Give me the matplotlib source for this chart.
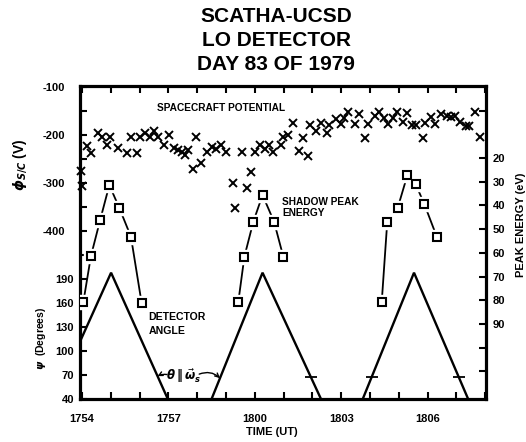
import numpy as np
import matplotlib
matplotlib.use('Agg')
import matplotlib.pyplot as plt

# ---------------- data (time in minutes after 17:54 UT) ----------------
pot_t = [-0.05, 0.00, 0.19, 0.33, 0.56, 0.70, 0.86, 0.99, 1.24, 1.55,
         1.70, 1.90, 2.00, 2.20, 2.36, 2.50, 2.65, 2.85, 3.03, 3.19,
         3.34, 3.46, 3.58, 3.69, 3.86, 3.96, 4.12, 4.33, 4.50, 4.66,
         4.84, 5.01, 5.25, 5.31, 5.57, 5.72, 5.87, 6.01, 6.17, 6.34,
         6.48, 6.64, 6.90, 6.99, 7.16, 7.34, 7.54, 7.66, 7.86, 7.93,
         8.14, 8.30, 8.50, 8.58, 8.82, 8.98, 9.09, 9.25, 9.47, 9.61,
         9.83, 9.94, 10.16, 10.30, 10.48, 10.64, 10.81, 10.94, 11.14, 11.27,
         11.46, 11.61, 11.84, 11.91, 12.11, 12.27, 12.47, 12.66, 12.81, 12.97,
         13.14, 13.32, 13.45, 13.65, 13.83]
pot_v = [-275, -307, -224, -238, -195, -204, -222, -204, -228, -238,
         -204, -238, -204, -195, -204, -191, -204, -221, -200, -228,
         -232, -235, -242, -232, -272, -205, -258, -235, -225, -230,
         -222, -236, -300, -353, -236, -310, -278, -235, -220, -229,
         -222, -236, -222, -205, -200, -176, -234, -206, -243, -180,
         -192, -175, -195, -179, -166, -177, -164, -152, -178, -157,
         -207, -178, -161, -152, -164, -178, -165, -152, -172, -154,
         -180, -180, -207, -176, -163, -177, -157, -160, -162, -160,
         -172, -181, -181, -152, -204]

# shadow peak energy (eV), three shadow passes
e1_t = [0.05, 0.31, 0.63, 0.95, 1.30, 1.70, 2.07]
e1_v = [80.6, 61.4, 46.2, 31.4, 41.2, 53.2, 81.1]
e2_t = [5.43, 5.64, 5.95, 6.27, 6.67, 6.99]
e2_v = [80.6, 61.6, 46.9, 35.6, 46.9, 61.6]
e3_t = [10.41, 10.60, 10.96, 11.30, 11.59, 11.89, 12.32]
e3_v = [80.6, 47.1, 41.2, 27.2, 31.1, 39.5, 53.2]

# detector angle psi (degrees)
a1_t = [-0.07, 1.01, 2.98]
a1_v = [111.4, 197.3, 40.0]
a2_t = [4.50, 6.27, 8.30]
a2_v = [40.0, 197.3, 40.0]
a3_t = [9.75, 11.53, 13.41]
a3_v = [40.0, 197.3, 40.0]
theta_par = 67.0   # psi where theta || omega_s

time_ticks = [0, 3, 6, 9, 12]
time_labels = ['1754', '1757', '1800', '1803', '1806']
pot_ticks = [-100, -200, -300, -400]
pot_minor = [-150, -250, -350, -450]
psi_ticks = [40, 70, 100, 130, 160, 190]
en_ticks = [20, 30, 40, 50, 60, 70, 80, 90]
en_minor = [0, 100, 110]

# ---------------- figure ----------------
plt.rcParams['font.family'] = ['Liberation Sans', 'DejaVu Sans']
plt.rcParams['font.weight'] = 'bold'
plt.rcParams['mathtext.fontset'] = 'dejavusans'
plt.rcParams['axes.unicode_minus'] = False

W, H = 526, 442
fig = plt.figure(figsize=(W / 100, H / 100), dpi=100)

def fx(x):
    return x / W

def fy(y):
    return 1 - y / H

rect = [80 / W, 1 - 399 / H, (486 - 80) / W, (399 - 86) / H]
TL, TW = 5.3, 1.5

ax = fig.add_axes(rect)
ax.set_xlim(-0.069, 14.03)
ax.set_ylim(-751, -97.9)
for s in ax.spines.values():
    s.set_linewidth(2.3)
ax.set_xticks(time_ticks)
ax.set_xticklabels(time_labels)
ax.set_xticks(np.arange(0, 15), minor=True)
ax.set_yticks(pot_ticks)
ax.set_yticklabels([str(v) for v in pot_ticks])
ax.set_yticks(pot_minor, minor=True)
ax.tick_params(axis='x', which='both', direction='in', top=True, bottom=True,
               length=TL, width=TW, pad=10.5, labelsize=8)
ax.tick_params(axis='y', which='both', direction='in', left=True, right=False,
               length=TL, width=TW, pad=10.5, labelsize=8)

axp = fig.add_axes(rect, sharex=ax)
axp.patch.set_visible(False)
for s in axp.spines.values():
    s.set_visible(False)
axp.set_ylim(40, 429.8)
axp.set_yticks(psi_ticks)
axp.set_yticklabels([str(v) for v in psi_ticks])
axp.tick_params(axis='x', which='both', bottom=False, top=False, labelbottom=False)
axp.tick_params(axis='y', which='both', direction='in', left=True, right=False,
                length=TL, width=TW, pad=4.3, labelsize=8)

axe = fig.add_axes(rect, sharex=ax)
axe.patch.set_visible(False)
for s in axe.spines.values():
    s.set_visible(False)
axe.set_ylim(121.7, -10.4)
axe.yaxis.tick_right()
axe.set_yticks(en_ticks)
axe.set_yticklabels([str(v) for v in en_ticks])
axe.set_yticks(en_minor, minor=True)
axe.tick_params(axis='x', which='both', bottom=False, top=False, labelbottom=False)
axe.tick_params(axis='y', which='both', direction='in', left=False, right=True,
                length=TL, width=TW, pad=5, labelsize=8)

# spacecraft potential
ax.plot(pot_t, pot_v, ls='none', marker='x', ms=5.5, mew=1.4, color='black',
        clip_on=False, zorder=3)

# shadow peak energy
for t, e in [(e1_t, e1_v), (e2_t, e2_v), (e3_t, e3_v)]:
    axe.plot(t, e, '-', color='black', lw=1.3, zorder=2)
    axe.plot(t, e, ls='none', marker='s', ms=9.5, mfc='white', mec='white', zorder=3)
    axe.plot(t, e, ls='none', marker='s', ms=5.6, mfc='white', mec='black',
             mew=1.5, zorder=4)

# detector angle
for t, a in [(a1_t, a1_v), (a2_t, a2_v), (a3_t, a3_v)]:
    axp.plot(t, a, '-', color='black', lw=1.7, solid_joinstyle='miter', zorder=2)

# theta || omega_s markers on the angle lines
cross_t = [
    float(np.interp(theta_par, [a2_v[2], a2_v[1]], [a2_t[2], a2_t[1]])),
    float(np.interp(theta_par, [a3_v[0], a3_v[1]], [a3_t[0], a3_t[1]])),
    float(np.interp(theta_par, [a3_v[2], a3_v[1]], [a3_t[2], a3_t[1]])),
]
axp.plot(cross_t, [theta_par] * len(cross_t), ls='none', marker='_', ms=8,
         mew=1.3, color='black', zorder=3)

left_t = float(np.interp(theta_par + 1.5, [a1_v[2], a1_v[1]], [a1_t[2], a1_t[1]]))
right_t = float(np.interp(theta_par - 1, [a2_v[0], a2_v[1]], [a2_t[0], a2_t[1]]))
axp.text(3.52, 69.0, r'$\theta\,\|\,\vec{\omega}_s$', ha='center', va='center',
         fontsize=8.5)
axp.annotate('', xy=(left_t, theta_par + 1.5), xytext=(2.95, 70.5),
             arrowprops=dict(arrowstyle='->', lw=1.0, color='black',
                             shrinkA=0, shrinkB=0,
                             connectionstyle='arc3,rad=0.15',
                             mutation_scale=7))
axp.annotate('', xy=(right_t, theta_par - 1), xytext=(4.07, 71.0),
             arrowprops=dict(arrowstyle='->', lw=1.0, color='black',
                             shrinkA=0, shrinkB=0,
                             connectionstyle='arc3,rad=-0.3',
                             mutation_scale=7))

# ---------------- texts ----------------
for txt, y in [('SCATHA-UCSD', 17), ('LO DETECTOR', 41), ('DAY 83 OF 1979', 64)]:
    fig.text(fx(276), fy(y), txt, ha='center', va='center', fontsize=15,
             fontweight='bold')

fig.text(fx(157), fy(108), 'SPACECRAFT POTENTIAL', ha='left', va='center',
         fontsize=7.3, fontweight='bold')
fig.text(fx(282), fy(201.7), 'SHADOW PEAK', ha='left', va='center',
         fontsize=7.3, fontweight='bold')
fig.text(fx(282), fy(213), 'ENERGY', ha='left', va='center',
         fontsize=7.3, fontweight='bold')
fig.text(fx(148), fy(316.7), 'DETECTOR', ha='left', va='center',
         fontsize=7.6, fontweight='bold')
fig.text(fx(149), fy(331), 'ANGLE', ha='left', va='center',
         fontsize=7.6, fontweight='bold')

fig.text(fx(20), fy(165), r'$\phi_{S/C}$ (V)', rotation=90, ha='center',
         va='center', fontsize=10, fontweight='bold')
fig.text(fx(41), fy(338), r'$\psi$  (Degrees)', rotation=90, ha='center',
         va='center', fontsize=7.5, fontweight='bold')
fig.text(fx(521), fy(225), 'PEAK ENERGY (eV)', rotation=90, ha='center',
         va='center', fontsize=8, fontweight='bold')
fig.text(fx(272), fy(432), 'TIME (UT)', ha='center', va='center', fontsize=8,
         fontweight='bold')

fig.savefig('out.png', dpi=100)
